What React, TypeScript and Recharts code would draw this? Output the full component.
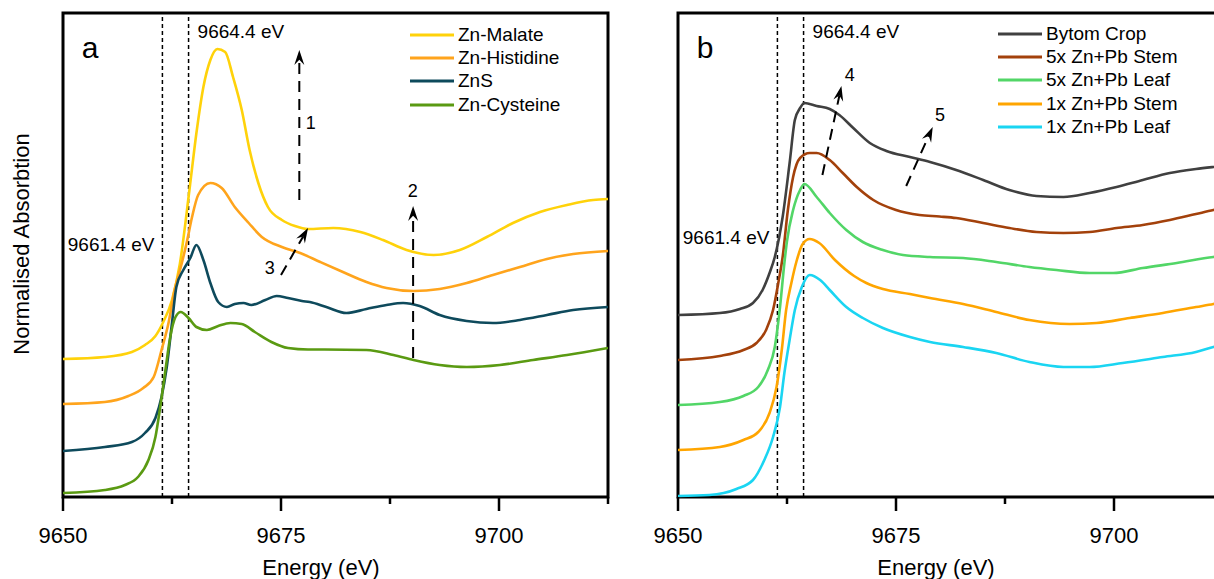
import React from 'react';
import { LineChart, Line, XAxis, YAxis, ReferenceLine, ReferenceArea, ReferenceDot, Legend } from 'recharts';

type Pt = [number, number];

const energyTicks = [9650, 9662.5, 9675, 9687.5, 9700, 9712.5];
const edgeLines = [9661.4, 9664.4];

// panel a: reference compounds  [energy (eV), offset normalised absorption]
const znMalate: Pt[] = [
    [9650, 1.38], [9654.8, 1.40], [9657.9, 1.45], [9659.4, 1.52], [9660.6, 1.61], [9661.5, 1.75],
    [9662.5, 1.97], [9663.4, 2.33], [9664.5, 3.07], [9665.3, 3.64], [9666.1, 4.10], [9666.9, 4.37],
    [9667.7, 4.48], [9668.6, 4.45], [9669.5, 4.20], [9670.5, 3.87], [9671.4, 3.47], [9672.4, 3.14],
    [9673.5, 2.90], [9675.1, 2.77], [9676.6, 2.71], [9678.1, 2.68], [9681.0, 2.69], [9684.1, 2.65],
    [9686.7, 2.57], [9689.4, 2.47], [9692.5, 2.42], [9695.5, 2.47], [9698.6, 2.60], [9701.6, 2.74],
    [9704.7, 2.85], [9707.8, 2.92], [9710.8, 2.97], [9712.5, 2.98],
];
const znHistidine: Pt[] = [
    [9650, 0.93], [9654.8, 0.95], [9657.5, 1.01], [9659.2, 1.09], [9660.4, 1.20], [9661.3, 1.47],
    [9662.1, 1.74], [9662.8, 2.07], [9663.6, 2.33], [9664.2, 2.55], [9664.8, 2.80], [9665.5, 3.02],
    [9666.9, 3.14], [9668.2, 3.09], [9669.7, 2.90], [9671.3, 2.74], [9672.8, 2.60], [9675.1, 2.50],
    [9677.2, 2.44], [9679.5, 2.35], [9682.1, 2.25], [9684.8, 2.15], [9687.1, 2.09], [9690.2, 2.06],
    [9693.2, 2.08], [9696.3, 2.14], [9699.3, 2.22], [9702.4, 2.30], [9705.5, 2.38], [9708.5, 2.43],
    [9712.5, 2.46],
];
const znS: Pt[] = [
    [9650, 0.46], [9654.8, 0.50], [9657.9, 0.55], [9659.4, 0.64], [9660.6, 0.79], [9661.3, 1.00],
    [9661.9, 1.30], [9662.5, 1.74], [9663.0, 2.10], [9663.8, 2.27], [9664.6, 2.39], [9665.3, 2.52],
    [9666.1, 2.37], [9666.9, 2.14], [9667.8, 1.95], [9668.8, 1.90], [9669.7, 1.93], [9670.7, 1.94],
    [9671.6, 1.92], [9673.2, 1.97], [9674.5, 2.01], [9675.8, 1.99], [9677.4, 1.96], [9678.3, 1.95],
    [9680.2, 1.90], [9682.5, 1.84], [9684.8, 1.88], [9687.1, 1.92], [9689.0, 1.94], [9690.9, 1.91],
    [9693.2, 1.82], [9696.3, 1.76], [9699.3, 1.74], [9702.4, 1.77], [9705.5, 1.82], [9708.5, 1.87],
    [9712.5, 1.90],
];
const znCysteine: Pt[] = [
    [9650, 0.04], [9654.8, 0.07], [9657.1, 0.12], [9658.6, 0.20], [9659.8, 0.37], [9660.6, 0.60],
    [9661.1, 0.87], [9661.7, 1.24], [9662.3, 1.60], [9662.9, 1.80], [9663.5, 1.85], [9664.4, 1.79],
    [9665.3, 1.70], [9666.5, 1.67], [9667.8, 1.71], [9669.2, 1.74], [9670.5, 1.73], [9672.0, 1.65],
    [9673.9, 1.55], [9675.8, 1.49], [9678.1, 1.475], [9680.0, 1.475], [9684.8, 1.47], [9687.9, 1.42],
    [9690.2, 1.37], [9693.2, 1.32], [9696.3, 1.30], [9700.1, 1.32], [9703.9, 1.37], [9707.8, 1.42],
    [9712.5, 1.49],
];

// panel b: plant samples
const bytomCrop: Pt[] = [
    [9650, 1.82], [9654.8, 1.84], [9657.1, 1.88], [9658.6, 1.94], [9659.7, 2.07], [9660.5, 2.24],
    [9661.1, 2.40], [9662.0, 2.80], [9662.8, 3.34], [9663.4, 3.77], [9664.0, 3.89], [9664.5, 3.94],
    [9665.9, 3.91], [9667.4, 3.88], [9668.5, 3.82], [9670.1, 3.69], [9672.0, 3.54], [9673.9, 3.46],
    [9676.6, 3.40], [9678.9, 3.35], [9681.9, 3.27], [9685.0, 3.17], [9688.0, 3.07], [9691.1, 3.01],
    [9694.2, 3.00], [9697.2, 3.04], [9700.3, 3.10], [9703.3, 3.17], [9706.4, 3.24], [9709.4, 3.28],
    [9711.4, 3.30], [9712.5, 3.31],
];
const stem5x: Pt[] = [
    [9650, 1.37], [9654.8, 1.41], [9657.5, 1.47], [9659.0, 1.54], [9660.1, 1.67], [9660.9, 1.87],
    [9661.5, 2.14], [9662.0, 2.40], [9662.6, 2.87], [9663.2, 3.20], [9664.0, 3.39], [9665.1, 3.44],
    [9665.9, 3.44], [9667.4, 3.37], [9668.9, 3.24], [9670.5, 3.10], [9672.4, 2.97], [9675.0, 2.87],
    [9677.7, 2.82], [9680.0, 2.805], [9681.9, 2.79], [9685.0, 2.74], [9688.0, 2.69], [9691.1, 2.65],
    [9694.2, 2.64], [9697.2, 2.65], [9700.3, 2.69], [9703.3, 2.72], [9706.4, 2.77], [9709.4, 2.83],
    [9711.4, 2.87], [9712.5, 2.89],
];
const leaf5x: Pt[] = [
    [9650, 0.92], [9654.8, 0.95], [9657.5, 1.01], [9659.2, 1.10], [9660.3, 1.27], [9661.1, 1.50],
    [9661.7, 1.90], [9662.2, 2.34], [9662.5, 2.56], [9663.2, 2.87], [9664.0, 3.07], [9664.5, 3.13],
    [9665.9, 3.00], [9667.4, 2.84], [9669.3, 2.67], [9671.2, 2.55], [9673.5, 2.47], [9675.8, 2.42],
    [9678.9, 2.40], [9682.7, 2.39], [9686.5, 2.35], [9690.3, 2.30], [9693.4, 2.27], [9697.2, 2.24],
    [9699.9, 2.24], [9703.3, 2.29], [9707.2, 2.34], [9711.4, 2.40], [9712.5, 2.41],
];
const stem1x: Pt[] = [
    [9650, 0.47], [9654.8, 0.50], [9657.5, 0.57], [9659.2, 0.65], [9660.5, 0.84], [9661.3, 1.10],
    [9661.9, 1.47], [9662.4, 1.87], [9663.0, 2.14], [9663.6, 2.36], [9664.3, 2.53], [9665.1, 2.58],
    [9666.2, 2.54], [9668.0, 2.37], [9670.2, 2.21], [9671.6, 2.14], [9673.5, 2.08], [9676.6, 2.03],
    [9678.9, 1.99], [9682.7, 1.93], [9686.5, 1.85], [9690.3, 1.77], [9694.9, 1.73], [9698.0, 1.74],
    [9701.8, 1.79], [9705.6, 1.84], [9709.4, 1.90], [9711.4, 1.93], [9712.5, 1.95],
];
const leaf1x: Pt[] = [
    [9650, 0.01], [9653.6, 0.02], [9656.7, 0.08], [9658.6, 0.17], [9659.9, 0.37], [9660.9, 0.60],
    [9661.7, 0.90], [9662.2, 1.24], [9662.8, 1.57], [9663.4, 1.87], [9664.2, 2.10], [9665.1, 2.22],
    [9666.3, 2.17], [9667.4, 2.07], [9669.3, 1.90], [9671.2, 1.79], [9673.5, 1.69], [9676.6, 1.60],
    [9678.9, 1.55], [9682.7, 1.50], [9686.5, 1.44], [9690.3, 1.35], [9694.2, 1.30], [9697.2, 1.30],
    [9701.0, 1.34], [9705.6, 1.40], [9709.4, 1.45], [9711.4, 1.50], [9712.5, 1.52],
];

// dashed arrows [from, to] and their numbers
const arrowsA: [Pt, Pt][] = [
    [[9677.1, 2.97], [9677.1, 4.47]],
    [[9690.15, 1.39], [9690.15, 2.91]],
    [[9675.0, 2.22], [9678.1, 2.69]],
];
const arrowLabelsA: [number, number, string][] = [[9678.4, 3.74, '1'], [9690.1, 3.06, '2'], [9673.7, 2.29, '3']];
const arrowsB: [Pt, Pt][] = [
    [[9666.56, 3.22], [9668.74, 4.11]],
    [[9676.17, 3.11], [9679.21, 3.70]],
];
const arrowLabelsB: [number, number, string][] = [[9669.7, 4.22, '4'], [9680.05, 3.82, '5']];

const seriesA = [
    { name: 'Zn-Malate', color: '#ffd20a', data: znMalate },
    { name: 'Zn-Histidine', color: '#ffa41c', data: znHistidine },
    { name: 'ZnS', color: '#0e4a5c', data: znS },
    { name: 'Zn-Cysteine', color: '#5a9a12', data: znCysteine },
];
const seriesB = [
    { name: 'Bytom Crop', color: '#404040', data: bytomCrop },
    { name: '5x Zn+Pb Stem', color: '#a3410b', data: stem5x },
    { name: '5x Zn+Pb Leaf', color: '#52d667', data: leaf5x },
    { name: '1x Zn+Pb Stem', color: '#ffa500', data: stem1x },
    { name: '1x Zn+Pb Leaf', color: '#1ad5f2', data: leaf1x },
];

const Y_MAX = 4.84;
const FONT = '"Liberation Sans", Arial, sans-serif';

const toPts = (arr: Pt[]) => arr.map(([e, v]) => ({ e, v }));

const EnergyTick = (props: any) => {
    const { x, y, payload } = props;
    const major = payload.value % 25 === 0;
    return (
        <g>
            <line x1={x} y1={y} x2={x} y2={y + (major ? 14 : 7)} stroke="#000" strokeWidth={2.5} />
            {major && (
                <text x={x} y={y + 46} textAnchor="middle" fontSize={22} fill="#000">{payload.value}</text>
            )}
        </g>
    );
};

const ArrowShape = (props: any) => {
    const { x1, y1, x2, y2 } = props;
    const a = Math.atan2(y2 - y1, x2 - x1);
    const c = Math.cos(a), s = Math.sin(a);
    const L = 15, W = 5;
    const bx = x2 - c * L, by = y2 - s * L;
    const nx = x2 - c * L * 0.65, ny = y2 - s * L * 0.65;
    const pts = `${x2},${y2} ${bx - s * W},${by + c * W} ${nx},${ny} ${bx + s * W},${by - c * W}`;
    return (
        <g>
            <line x1={x1} y1={y1} x2={nx} y2={ny} stroke="#000" strokeWidth={2} strokeDasharray="11 7" />
            <polygon points={pts} fill="#000" />
        </g>
    );
};

const xLabel = (props: any) => {
    const vb = props.viewBox || { x: 0, width: 0 };
    return (
        <text x={vb.x + vb.width / 2 - 14.5} y={575} textAnchor="middle" fontSize={22} fill="#000">Energy (eV)</text>
    );
};

const yLabel = () => (
    <text x={29} y={244} transform="rotate(-90 29 244)" textAnchor="middle" fontSize={22} fill="#000">
        Normalised Absorbtion
    </text>
);

const legendContent = (items: { name: string, color: string }[]) => () => (
    <div style={{ fontSize: 19, color: '#000', fontFamily: FONT }}>
        {items.map((s) => (
            <div key={s.name} style={{ display: 'flex', alignItems: 'center', height: 23.3 }}>
                <svg width={44} height={4} style={{ display: 'block' }}>
                    <line x1={0} y1={2} x2={44} y2={2} stroke={s.color} strokeWidth={3} />
                </svg>
                <span style={{ marginLeft: 4, whiteSpace: 'nowrap' }}>{s.name}</span>
            </div>
        ))}
    </div>
);

interface PanelProps {
    left: number;
    width: number;
    marginLeft: number;
    letter: string;
    series: { name: string, color: string, data: Pt[] }[];
    arrows: [Pt, Pt][];
    arrowLabels: [number, number, string][];
    legendLeft: number;
    legendTop: number;
    showYLabel: boolean;
    lowLabelY: number;
}

function Panel({ left, width, marginLeft, letter, series, arrows, arrowLabels, legendLeft, legendTop, showYLabel, lowLabelY }: PanelProps) {
    return (
        <div style={{ position: 'absolute', left, top: 0 }}>
            <LineChart width={width} height={579} margin={{ top: 13, right: 12, bottom: 0, left: marginLeft }}>
                <XAxis
                    dataKey="e"
                    type="number"
                    domain={[9650, 9712.5]}
                    allowDataOverflow
                    ticks={energyTicks}
                    interval={0}
                    tickLine={false}
                    axisLine={false}
                    tickSize={0}
                    tickMargin={0}
                    tick={<EnergyTick />}
                    height={82}
                    label={xLabel}
                />
                {showYLabel ? (
                    <YAxis type="number" domain={[0, Y_MAX]} width={63} tick={false} tickLine={false} axisLine={false} label={yLabel} />
                ) : (
                    <YAxis type="number" domain={[0, Y_MAX]} hide />
                )}
                <ReferenceArea x1={9650} x2={9712.5} y1={0} y2={Y_MAX} fill="none" fillOpacity={0} stroke="#000" strokeWidth={3} />
                {edgeLines.map((e) => (
                    <ReferenceLine key={e} x={e} stroke="#000" strokeWidth={1.5} strokeDasharray="4 3" />
                ))}
                {series.map((s) => (
                    <Line
                        key={s.name}
                        data={toPts(s.data)}
                        dataKey="v"
                        name={s.name}
                        type="monotone"
                        stroke={s.color}
                        strokeWidth={2.6}
                        dot={false}
                        activeDot={false}
                        isAnimationActive={false}
                    />
                ))}
                {arrows.map(([from, to], i) => (
                    <ReferenceLine
                        key={`arrow-${i}`}
                        segment={[{ x: from[0], y: from[1] }, { x: to[0], y: to[1] }]}
                        shape={ArrowShape}
                    />
                ))}
                {arrowLabels.map(([e, v, t]) => (
                    <ReferenceDot key={t} x={e} y={v} r={0} fill="none" stroke="none"
                        label={{ value: t, position: 'center', fontSize: 18, fill: '#000' }} />
                ))}
                <ReferenceDot x={9653.1} y={4.5} r={0} fill="none" stroke="none"
                    label={{ value: letter, position: 'center', fontSize: 30, fill: '#000' }} />
                <ReferenceDot x={9664.4} y={4.66} r={0} fill="none" stroke="none"
                    label={{ value: '9664.4 eV', position: 'right', offset: 9, fontSize: 19, fill: '#000' }} />
                <ReferenceDot x={9661.4} y={lowLabelY} r={0} fill="none" stroke="none"
                    label={{ value: '9661.4 eV', position: 'left', offset: 8, fontSize: 19, fill: '#000' }} />
                <Legend
                    layout="vertical"
                    align="center"
                    verticalAlign="middle"
                    content={legendContent(series)}
                    wrapperStyle={{ left: legendLeft, top: legendTop, width: 'auto', height: 'auto' }}
                />
            </LineChart>
        </div>
    );
}

export default function App() {
    return (
        <div style={{ position: 'absolute', left: 0, top: 0, width: 1214, height: 579, overflow: 'hidden', background: '#fff', fontFamily: FONT }}>
            <Panel left={0} width={620} marginLeft={0} letter="a" series={seriesA} arrows={arrowsA}
                arrowLabels={arrowLabelsA} legendLeft={410} legendTop={23} showYLabel lowLabelY={2.53} />
            <Panel left={625} width={610} marginLeft={53} letter="b" series={seriesB} arrows={arrowsB}
                arrowLabels={arrowLabelsB} legendLeft={373} legendTop={22} showYLabel={false} lowLabelY={2.6} />
        </div>
    );
}
